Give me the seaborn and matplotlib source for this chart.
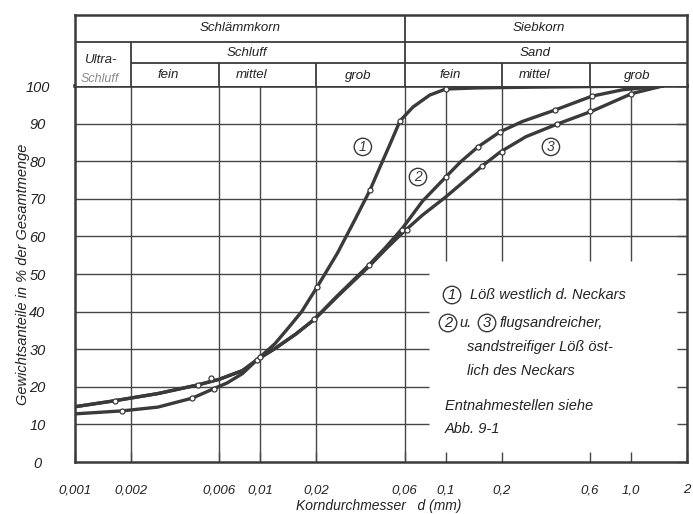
import numpy as np
import pandas as pd
import matplotlib
matplotlib.use("Agg")
import matplotlib.pyplot as plt
from matplotlib.ticker import FixedLocator, FixedFormatter, NullLocator
import seaborn as sns

# ---- grain size distribution data (d in mm, passing in %) ----
curve1_d = [0.001, 0.0018, 0.0028, 0.0043, 0.0056, 0.0066, 0.008, 0.0096, 0.012, 0.0145,
            0.0167, 0.0202, 0.026, 0.032, 0.039, 0.0442, 0.05, 0.0566, 0.0665, 0.082, 0.1,
            0.15, 0.3, 0.6, 1.48]
curve1_p = [12.8, 13.6, 14.6, 17.0, 19.5, 21.0, 23.5, 27.2, 31.5, 36.3,
            40.0, 46.5, 55.5, 64.0, 72.3, 78.5, 84.5, 90.7, 94.4, 97.6, 99.2,
            99.5, 99.7, 99.85, 100.0]

curve2_d = [0.001, 0.00164, 0.0028, 0.0046, 0.006, 0.008, 0.0096, 0.012, 0.0155, 0.0195,
            0.026, 0.0385, 0.047, 0.058, 0.075, 0.1, 0.12, 0.149, 0.196, 0.26, 0.388,
            0.614, 0.9, 1.48]
curve2_p = [14.7, 16.3, 18.2, 20.5, 22.0, 24.3, 27.2, 30.2, 34.0, 37.9,
            44.2, 52.4, 56.9, 62.0, 69.4, 75.8, 79.8, 83.8, 87.8, 90.6, 93.6,
            97.3, 99.0, 100.0]

curve3_d = [0.001, 0.00164, 0.0028, 0.0046, 0.006, 0.008, 0.0096, 0.012, 0.0155, 0.0195,
            0.026, 0.0385, 0.047, 0.058, 0.075, 0.1, 0.157, 0.196, 0.27, 0.40, 0.614,
            1.01, 1.48]
curve3_p = [14.7, 16.3, 18.2, 20.5, 22.0, 24.3, 27.2, 30.2, 34.0, 37.9,
            44.0, 52.0, 56.4, 60.8, 65.7, 70.5, 78.7, 82.4, 86.5, 89.9, 93.3,
            98.0, 100.0]

# measured sample points
m1_d = [0.0018, 0.0043, 0.0056, 0.0096, 0.0202, 0.039, 0.0566, 0.1]
m1_p = [13.6, 17.0, 19.5, 27.2, 46.5, 72.3, 90.7, 99.2]
m2_d = [0.00164, 0.0046, 0.0054, 0.0099, 0.0385, 0.058, 0.1, 0.149, 0.196, 0.388, 0.614]
m2_p = [16.3, 20.5, 22.4, 27.8, 52.4, 61.6, 75.8, 83.8, 87.8, 93.6, 97.3]
m3_d = [0.0195, 0.0616, 0.157, 0.2, 0.40, 0.6, 1.0]
m3_p = [37.9, 61.6, 78.7, 82.4, 89.9, 93.3, 98.0]

x_ticks = [0.001, 0.002, 0.006, 0.01, 0.02, 0.06, 0.1, 0.2, 0.6, 1.0, 2]
x_labels = ["0,001", "0,002", "0,006", "0,01", "0,02", "0,06", "0,1", "0,2", "0,6", "1,0", "2"]
y_ticks = list(range(0, 101, 10))
y_labels = [str(v) for v in y_ticks]

# ---- style ----
sns.set_theme(style="white")
plt.rcParams["font.family"] = ["Liberation Sans", "DejaVu Sans"]
plt.rcParams["font.style"] = "italic"

INK = "#3a3a3a"
GRID = "#474747"
TXT = "#222222"
W, H = 693, 514

fig = plt.figure(figsize=(W / 100, H / 100), dpi=100)
ax = fig.add_axes([75 / W, 1 - 462 / H, 612 / W, 376 / H])
axh = fig.add_axes([75 / W, 1 - 86 / H, 612 / W, 71 / H])

XMIN, XMAX = 0.001, 2.0
ax.set_xscale("log")
ax.set_xlim(XMIN, XMAX)
ax.set_ylim(0, 100)

# grid (the lower right part is left free for the notes)
box_x = 0.081
box_top = 53.5
for xv in [0.002, 0.006, 0.01, 0.02, 0.06, 0.1, 0.2, 0.6, 1.0]:
    y0 = box_top if xv > box_x else 0
    ax.vlines(xv, y0, 100, color=GRID, lw=1.0, zorder=1)
for yv in range(10, 100, 10):
    x1 = box_x if yv <= 50 else XMAX
    ax.hlines(yv, XMIN, x1, color=GRID, lw=1.0, zorder=1)

# curves
for dd, pp in [(curve1_d, curve1_p), (curve2_d, curve2_p), (curve3_d, curve3_p)]:
    df = pd.DataFrame({"d": dd, "p": pp})
    sns.lineplot(data=df, x="d", y="p", ax=ax, color=INK, lw=2.4, estimator=None,
                 sort=False, zorder=3)
for dd, pp in [(m1_d, m1_p), (m2_d, m2_p), (m3_d, m3_p)]:
    df = pd.DataFrame({"d": dd, "p": pp})
    sns.scatterplot(data=df, x="d", y="p", ax=ax, marker="o", s=13, color="white",
                    edgecolor=INK, linewidth=0.9, zorder=4)

# curve numbers
circ = dict(boxstyle="circle,pad=0.12", fc="white", ec=INK, lw=1.0)
for lab, xd, yp in [("1", 0.0357, 83.8), ("2", 0.0708, 75.8), ("3", 0.369, 83.8)]:
    ax.text(xd, yp, lab, ha="center", va="center", fontsize=10, color=INK, bbox=circ,
            zorder=5)

# axes
ax.xaxis.set_major_locator(FixedLocator(x_ticks))
ax.xaxis.set_major_formatter(FixedFormatter(x_labels))
ax.xaxis.set_minor_locator(NullLocator())
ax.yaxis.set_major_locator(FixedLocator(y_ticks))
ax.yaxis.set_major_formatter(FixedFormatter(y_labels))
ax.tick_params(axis="x", direction="in", length=7, width=1.0, color=GRID, pad=16,
               labelsize=9.5, labelcolor=TXT, bottom=True, top=False)
ax.tick_params(axis="y", direction="in", length=7, width=1.0, color=GRID, pad=27,
               labelsize=10.5, labelcolor=TXT, left=False, right=True)
for lbl in ax.get_yticklabels():
    lbl.set_horizontalalignment("center")
for lbl in ax.get_xticklabels() + ax.get_yticklabels():
    lbl.set_style("italic")
ax.set_xlabel("Korndurchmesser   d (mm)", fontsize=10, color=TXT)
ax.set_ylabel("Gewichtsanteile in % der Gesamtmenge", fontsize=10.5, color=TXT)
ax.xaxis.set_label_coords(0.496, -0.099)
ax.yaxis.set_label_coords(-0.074, 0.5)
for s in ax.spines.values():
    s.set_color(INK)
    s.set_linewidth(1.8)
ax.spines["top"].set_linewidth(2.6)

# ---- classification header ----
axh.set_xscale("log")
axh.set_xlim(XMIN, XMAX)
axh.set_ylim(0, 71)
axh.set_xticks([])
axh.set_yticks([])
axh.xaxis.set_minor_locator(NullLocator())
for s in axh.spines.values():
    s.set_color(INK)
    s.set_linewidth(1.8)
axh.spines["bottom"].set_visible(False)
hl = dict(color=INK, lw=1.3)
axh.hlines(44, XMIN, XMAX, **hl)
axh.hlines(23, 0.002, XMAX, **hl)
axh.vlines(0.06, 0, 71, **hl)
axh.vlines(0.002, 0, 44, **hl)
for xv in [0.006, 0.02, 0.2, 0.6]:
    axh.vlines(xv, 0, 23, **hl)

def hpx(px):
    return 10 ** (np.log10(XMIN) + (px - 75) / 612 * np.log10(XMAX / XMIN))

hk = dict(ha="center", va="center", fontsize=9.5, color=TXT)
axh.text(hpx(240), 57.5, "Schlämmkorn", **hk)
axh.text(hpx(539), 57.5, "Siebkorn", **hk)
axh.text(hpx(247), 33.5, "Schluff", **hk)
axh.text(hpx(535), 33.5, "Sand", **hk)
axh.text(hpx(100), 26, "Ultra-", **hk)
axh.text(hpx(100), 7.5, "Schluff", ha="center", va="center", fontsize=9,
         color="#8a8a8a")
for px, s in [(168, "fein"), (252, "mittel"), (358, "grob"),
              (450, "fein"), (535, "mittel"), (637, "grob")]:
    axh.text(hpx(px), 10.5, s, **hk)

# ---- notes ----
def ftxt(px, py, s, **kw):
    fig.text(px / W, 1 - py / H, s, va="center", ha="left", fontsize=10.5,
             color=TXT, **kw)

circ2 = dict(boxstyle="circle,pad=0.12", fc="white", ec=INK, lw=1.0)
fig.text(452 / W, 1 - 295 / H, "1", ha="center", va="center", fontsize=10.5,
         color=TXT, bbox=circ2)
ftxt(470, 295, "Löß westlich d. Neckars")
fig.text(448 / W, 1 - 323 / H, "2", ha="center", va="center", fontsize=10.5,
         color=TXT, bbox=circ2)
ftxt(459, 323, "u.")
fig.text(487 / W, 1 - 323 / H, "3", ha="center", va="center", fontsize=10.5,
         color=TXT, bbox=circ2)
ftxt(500, 323, "flugsandreicher,")
ftxt(467, 347, "sandstreifiger Löß öst-")
ftxt(467, 371, "lich des Neckars")
ftxt(445, 406, "Entnahmestellen siehe")
ftxt(445, 429, "Abb. 9-1")

fig.savefig("out.png", dpi=100, facecolor="white")
